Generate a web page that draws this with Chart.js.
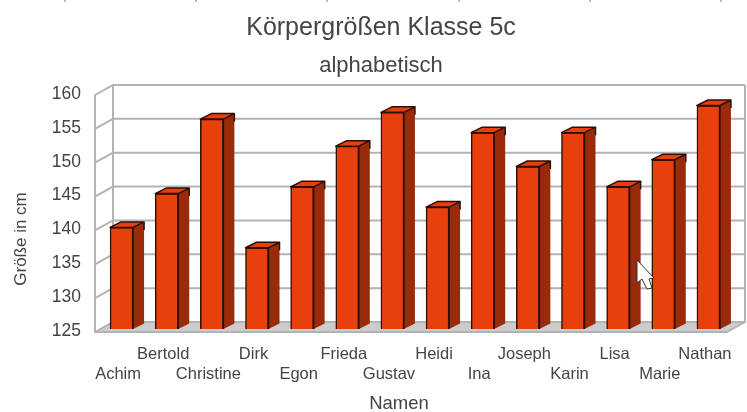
<!DOCTYPE html>
<html>
<head>
<meta charset="utf-8">
<title>Körpergrößen Klasse 5c</title>
<script src="https://cdn.jsdelivr.net/npm/chart.js@4/dist/chart.umd.js"></script>
<style>
  html, body { margin: 0; padding: 0; background: #ffffff; }
  #wrap { width: 747px; height: 412px; }
</style>
</head>
<body>
<div id="wrap"><canvas id="chart" width="747" height="412"></canvas></div>
<script>
const names = ['Achim', 'Bertold', 'Christine', 'Dirk', 'Egon', 'Frieda', 'Gustav', 'Heidi', 'Ina', 'Joseph', 'Karin', 'Lisa', 'Marie', 'Nathan'];
const heights = [140, 145, 156, 137, 146, 152, 157, 143, 154, 149, 154, 146, 150, 158];
const yTicks = [125, 130, 135, 140, 145, 150, 155, 160];

const textColor = '#444444';
const gridColor = '#b3b3b3';
const edgeColor = '#2e0d04';

// fake 3D: back wall and front edge are the bar plane shifted by these
const back = { x: 14, y: -7 };
const front = { x: -4, y: 3 };
const barDepth = { x: 11, y: -5.5 };

// walls and floor, behind the bars
const walls = {
  id: 'walls',
  beforeDatasetsDraw(chart) {
    const { ctx, chartArea: a, scales: { y } } = chart;
    const bottom = y.getPixelForValue(125);
    const top = y.getPixelForValue(160);
    const right = a.right + back.x;

    ctx.save();
    // floor
    ctx.fillStyle = '#cccccc';
    ctx.beginPath();
    ctx.moveTo(a.left + front.x, bottom + front.y);
    ctx.lineTo(a.left + back.x, bottom + back.y);
    ctx.lineTo(right, bottom + back.y);
    ctx.lineTo(a.right + front.x, bottom + front.y);
    ctx.closePath();
    ctx.fill();

    ctx.strokeStyle = gridColor;
    ctx.lineWidth = 2;
    yTicks.forEach(v => {
      const py = y.getPixelForValue(v);
      ctx.beginPath();
      ctx.moveTo(a.left + front.x, py + front.y);
      ctx.lineTo(a.left + back.x, py + back.y);
      ctx.lineTo(right, py + back.y);
      ctx.stroke();
    });
    // wall edges
    ctx.beginPath();
    ctx.moveTo(a.left + front.x, top + front.y);
    ctx.lineTo(a.left + front.x, bottom + front.y);
    ctx.lineTo(a.right + front.x, bottom + front.y);
    ctx.lineTo(right, bottom + back.y);
    ctx.lineTo(right, top + back.y);
    ctx.moveTo(a.left + back.x, top + back.y);
    ctx.lineTo(a.left + back.x, bottom + back.y);
    ctx.stroke();
    ctx.restore();
  },
  // side and top faces of each bar
  afterDatasetsDraw(chart) {
    const { ctx } = chart;
    ctx.save();
    ctx.lineWidth = 1.5;
    ctx.lineJoin = 'round';
    ctx.strokeStyle = edgeColor;
    chart.getDatasetMeta(0).data.forEach(bar => {
      const { x, y, base, width } = bar.getProps(['x', 'y', 'base', 'width']);
      const l = x - width / 2;
      const r = x + width / 2;
      ctx.fillStyle = '#992b0a';
      ctx.beginPath();
      ctx.moveTo(r, y);
      ctx.lineTo(r + barDepth.x, y + barDepth.y);
      ctx.lineTo(r + barDepth.x, base + barDepth.y);
      ctx.lineTo(r, base);
      ctx.closePath();
      ctx.fill();
      // dark edge between front and side faces
      ctx.beginPath();
      ctx.moveTo(r, y);
      ctx.lineTo(r, base);
      ctx.stroke();
      ctx.fillStyle = '#e8400d';
      ctx.beginPath();
      ctx.moveTo(l, y);
      ctx.lineTo(l + barDepth.x, y + barDepth.y);
      ctx.lineTo(r + barDepth.x, y + barDepth.y);
      ctx.lineTo(r, y);
      ctx.closePath();
      ctx.fill();
      ctx.stroke();
      ctx.beginPath();
      ctx.moveTo(r + barDepth.x, y + barDepth.y);
      ctx.lineTo(r + barDepth.x, y + barDepth.y + 8);
      ctx.stroke();
    });
    ctx.restore();
  }
};

// axis titles sit off centre in the original, so they are placed by hand
// same for the screenshot leftovers: ruler ticks on top and the mouse pointer
const extras = {
  id: 'extras',
  afterDraw(chart) {
    const { ctx } = chart;
    ctx.save();
    ctx.fillStyle = textColor;
    ctx.textAlign = 'center';
    ctx.textBaseline = 'middle';
    ctx.font = '18.5px "Liberation Sans"';
    ctx.fillText('Namen', 399, 404);
    ctx.save();
    ctx.translate(21, 239);
    ctx.rotate(-Math.PI / 2);
    ctx.font = '17px "Liberation Sans"';
    ctx.fillText('Größe in cm', 0, 0);
    ctx.restore();

    ctx.fillStyle = '#bbbbbb';
    [65, 196, 327, 459, 590, 721].forEach(px => ctx.fillRect(px - 1, 0, 2, 2));

    ctx.fillStyle = '#ffffff';
    ctx.strokeStyle = '#333333';
    ctx.lineWidth = 1;
    ctx.beginPath();
    ctx.moveTo(637, 260);
    ctx.lineTo(637, 283);
    ctx.lineTo(642, 279);
    ctx.lineTo(647, 289);
    ctx.lineTo(652, 288);
    ctx.lineTo(649, 279);
    ctx.lineTo(654, 278);
    ctx.closePath();
    ctx.fill();
    ctx.stroke();
    ctx.restore();
  }
};

new Chart(document.getElementById('chart'), {
  type: 'bar',
  data: {
    labels: names,
    datasets: [{
      data: heights,
      base: 125,
      backgroundColor: '#e8400d',
      borderColor: edgeColor,
      borderWidth: 1.5,
      barThickness: 23
    }]
  },
  plugins: [walls, extras],
  options: {
    responsive: false,
    animation: false,
    layout: { padding: { left: 31, right: 16, top: 0, bottom: 0 } },
    plugins: {
      legend: { display: false },
      tooltip: { enabled: false },
      title: {
        display: true,
        text: 'Körpergrößen Klasse 5c',
        color: textColor,
        font: { family: '"Liberation Sans"', size: 25, weight: 'normal' },
        padding: { top: 13, bottom: 0 }
      },
      subtitle: {
        display: true,
        text: 'alphabetisch',
        color: textColor,
        font: { family: '"Liberation Sans"', size: 22, weight: 'normal' },
        padding: { top: 9.8, bottom: 12.8 }
      }
    },
    scales: {
      x: {
        grid: { display: false },
        border: { display: false },
        afterFit(scale) { scale.height = 83; },
        ticks: {
          color: textColor,
          font: { family: '"Liberation Sans"', size: 16.5 },
          autoSkip: false,
          maxRotation: 0,
          minRotation: 0,
          labelOffset: -3.5,
          padding: 8,
          // two staggered rows, first name on the lower one
          callback(value, index) {
            return index % 2 ? [names[index], ''] : ['', names[index]];
          }
        }
      },
      y: {
        min: 125,
        max: 160,
        grid: { display: false },
        border: { display: false },
        afterFit(scale) { scale.width = 68; },
        ticks: {
          color: textColor,
          font: { family: '"Liberation Sans"', size: 17.5 },
          stepSize: 5,
          labelOffset: 2,
          padding: 10
        }
      }
    }
  }
});
</script>
</body>
</html>
